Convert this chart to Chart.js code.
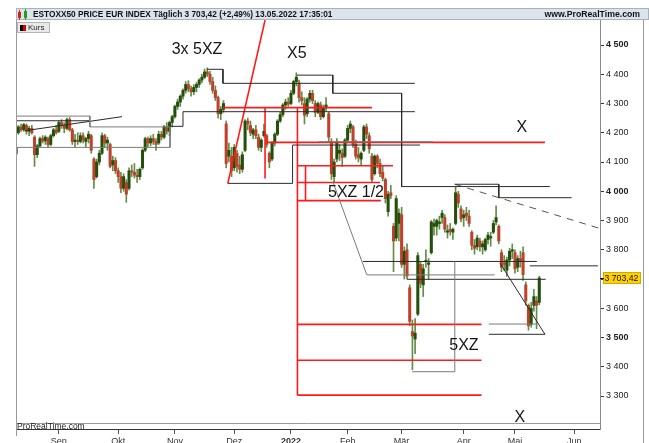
<!DOCTYPE html>
<html>
<head>
<meta charset="utf-8">
<script src="https://cdn.jsdelivr.net/npm/chart.js@4.4.1/dist/chart.umd.min.js"></script>
<style>
  html, body { margin: 0; padding: 0; background: #fff; }
  #wrap { width: 649px; height: 443px; }
</style>
</head>
<body>
<div id="wrap"><canvas id="chart" width="649" height="443"></canvas></div>
<script>
// month ticks (trading-day index) and their labels
const monthTicks = [15, 37, 58, 80, 101, 122, 142, 165, 184, 206];
const monthLabels = ['Sep', 'Okt', 'Nov', 'Dez', '2022', 'Feb', 'Mär', 'Apr', 'Mai', 'Jun'];
const priceTicks = [3300, 3400, 3500, 3600, 3700, 3800, 3900, 4000, 4100, 4200, 4300, 4400, 4500];

// daily candles, 11.08.2021 .. 13.05.2022
const opens = [
  4200,4220,4210,4225,4205,4215,4185,4125,4155,4180,4172,4180,4160,4190,4210,
  4205,4235,4225,4215,4245,4210,4170,4175,4170,4190,4170,4180,4190,4110,4050,4100,4130,4190,4165,4160,4090,4105,
  4070,4050,4010,4030,4010,4070,4065,4055,4050,4080,4140,4180,4165,4180,4170,4165,4195,4185,4220,4205,4235,
  4255,4290,4305,4325,4345,4365,4350,4340,4355,4365,4380,4390,4408,4400,4375,4345,4320,4265,4280,4230,4120,4120,
  4080,4130,4090,4075,4140,4240,4225,4195,4210,4185,4150,4190,4190,4130,4110,4165,4195,4240,4262,4295,4305,
  4300,4335,4375,4370,4320,4300,4265,4315,4335,4300,4270,4295,4255,4285,4265,4170,4050,4110,4130,4130,4120,
  4175,4215,4220,4160,4125,4110,4140,4220,4190,4120,4060,4120,4095,4065,4040,3930,3995,3880,3840,3890,
  3920,3750,3800,3670,3520,3495,3580,3750,3680,3760,3750,3790,3880,3880,3890,3910,3910,3860,3870,3860,3890,3990,3940,
  3910,3925,3915,3860,3815,3810,3830,3810,3800,3835,3840,3860,3895,3880,3790,3755,3730,3765,3795,
  3790,3740,3770,3790,3680,3610,3545,3610,3625,3620
];
const highs = [
  4225,4230,4232,4230,4222,4225,4190,4160,4185,4190,4190,4185,4195,4215,4225,
  4240,4245,4235,4250,4252,4215,4195,4200,4200,4200,4185,4205,4195,4115,4110,4140,4200,4195,4185,4165,4120,4115,
  4080,4065,4060,4040,4080,4090,4095,4075,4080,4145,4185,4185,4190,4195,4180,4205,4205,4225,4235,4240,4260,
  4295,4315,4330,4350,4375,4378,4360,4365,4372,4385,4400,4418,4422,4410,4390,4360,4325,4290,4310,4240,4165,4150,
  4160,4140,4120,4135,4245,4250,4240,4215,4225,4195,4180,4230,4195,4135,4170,4200,4245,4270,4300,4315,4320,
  4345,4380,4405,4380,4340,4320,4320,4345,4345,4310,4305,4305,4295,4320,4270,4180,4110,4180,4160,4145,4180,
  4225,4240,4225,4175,4150,4135,4225,4230,4200,4130,4125,4125,4110,4085,4045,4000,4020,3890,3985,3940,
  3945,3810,3820,3680,3560,3565,3790,3760,3750,3800,3770,3900,3905,3905,3915,3935,3920,3885,3890,3875,4015,4000,3950,
  3935,3945,3935,3865,3835,3850,3840,3830,3840,3860,3860,3900,3950,3885,3800,3780,3775,3805,3820,
  3800,3780,3795,3810,3690,3615,3620,3665,3640,3710
];
const lows = [
  4195,4205,4205,4195,4190,4195,4085,4115,4150,4165,4160,4150,4155,4185,4195,
  4200,4215,4200,4210,4205,4160,4150,4160,4165,4165,4150,4165,4130,4010,4045,4090,4125,4150,4140,4080,4070,4060,
  4030,3995,4000,3962,4005,4050,4045,4030,4040,4075,4135,4150,4155,4160,4140,4160,4175,4180,4195,4190,4220,
  4250,4280,4290,4315,4335,4340,4325,4330,4340,4355,4370,4385,4392,4365,4335,4310,4250,4245,4270,4080,4100,4050,
  4070,4065,4060,4065,4135,4210,4190,4180,4180,4140,4135,4185,4150,4080,4105,4155,4190,4235,4255,4280,4290,
  4295,4330,4360,4305,4295,4230,4255,4305,4300,4255,4265,4245,4250,4275,4170,4040,4030,4100,4105,4085,4115,
  4165,4200,4150,4110,4100,4090,4135,4180,4130,4030,4055,4080,4050,4035,3960,3915,3975,3725,3830,3830,
  3740,3700,3700,3540,3390,3445,3575,3670,3640,3740,3700,3785,3850,3850,3870,3890,3860,3840,3850,3835,3885,3945,3895,
  3880,3900,3880,3800,3785,3800,3795,3785,3795,3820,3812,3855,3885,3820,3725,3730,3710,3745,3770,
  3720,3725,3740,3695,3610,3525,3535,3590,3530,3612
];
const closes = [
  4220,4210,4228,4205,4215,4200,4125,4155,4180,4172,4185,4160,4190,4210,4200,
  4235,4225,4215,4245,4210,4170,4175,4170,4190,4175,4180,4195,4140,4040,4100,4130,4190,4165,4175,4085,4105,4070,
  4050,4010,4050,3990,4070,4065,4055,4050,4075,4140,4180,4165,4180,4170,4160,4195,4185,4220,4205,4235,4255,
  4290,4305,4325,4345,4365,4350,4340,4355,4365,4380,4390,4408,4400,4375,4345,4320,4265,4280,4300,4095,4140,4070,
  4150,4085,4075,4125,4240,4230,4200,4210,4190,4150,4175,4205,4160,4100,4165,4195,4240,4262,4295,4305,4298,
  4335,4375,4390,4320,4310,4260,4315,4335,4310,4270,4300,4255,4285,4295,4185,4060,4100,4170,4140,4115,4175,
  4215,4230,4160,4120,4115,4130,4220,4195,4145,4040,4120,4095,4060,4045,3975,3990,3985,3830,3975,3925,
  3750,3795,3710,3555,3505,3515,3780,3685,3735,3760,3755,3895,3890,3900,3895,3925,3870,3865,3862,3870,3995,3960,3905,
  3920,3915,3890,3815,3805,3840,3810,3820,3835,3850,3845,3890,3910,3830,3740,3750,3765,3795,3800,
  3735,3770,3760,3715,3625,3540,3600,3640,3610,3703.42
];
const lastPrice = 3703.42;

// hand-drawn lines on the chart, as [trading-day index, price]
const blackLines = [
  [[-0.5, 4241], [26.5, 4241]],
  [[2.5, 4207], [38.4, 4255]],
  [[56.2, 4222], [61, 4222], [61, 4272], [146.9, 4272]],
  [[69.9, 4417], [75.8, 4417], [75.8, 4369], [146.9, 4369]],
  [[103.2, 4397], [116.5, 4397], [116.5, 4335], [142, 4335], [142, 4016], [196.9, 4016]],
  [[77.6, 4027], [101.6, 4027], [101.6, 4158], [148.8, 4158]],
  [[127.7, 3760], [192.1, 3760]],
  [[144, 3699], [195.4, 3699]],
  [[189.5, 3745], [214.7, 3745]],
  [[161.7, 4024], [178, 4024], [178, 3978], [205, 3978]],
  [[178.4, 3755], [195.1, 3511], [174.3, 3511]]
];
const grayLines = [
  [[-0.5, 4257], [26.5, 4257], [26.5, 4220], [56.2, 4220], [56.2, 4150], [-0.4, 4150], [-0.4, 4127]],
  [[111.3, 4169], [153.6, 4169]],
  [[116.5, 4033], [129.1, 3714], [176.5, 3714]],
  [[145.9, 3383], [161.7, 3383], [161.7, 3760]],
  [[174.3, 3546], [192.1, 3546]]
];
const redLines = [
  [[77.6, 4027], [91.4, 4585]],
  [[75.8, 4286], [131, 4286]],
  [[91.4, 4286], [91.4, 4044]],
  [[92, 4167], [195.1, 4167]],
  [[103.4, 4286], [103.4, 3303]],
  [[103.4, 3545], [171.6, 3545]],
  [[103.4, 3422], [171.6, 3422]],
  [[103.4, 3303], [171.6, 3303]],
  [[103.4, 4087], [138.8, 4087]],
  [[103.4, 4030], [134, 4030]],
  [[103.4, 3968], [134.3, 3968]],
  [[106.4, 4087], [106.4, 3968]]
];
const dashedLines = [
  [[161.7, 4024], [215.4, 3873]]
];
const notes = [
  ['3x 5XZ', 66.2, 4483],
  ['X5', 103.2, 4469],
  ['X', 186.5, 4216],
  ['5XZ 1/2', 125.1, 3994],
  ['5XZ', 165.1, 3471],
  ['X', 185.8, 3225]
];

const FONT = '"Liberation Sans", Arial, sans-serif';
const BULL = '#234f0b', BEAR = '#c0412b', WICK = '#628c47';

const days = closes.map((c, i) => i);
const wickData = days.map(i => ({ x: i, y: [lows[i], highs[i]] }));
const bodyData = days.map(i => ({ x: i, y: [opens[i], closes[i]] }));
const bodyColors = days.map(i => closes[i] >= opens[i] ? BULL : BEAR);

function lineSet(points, color, width, dash) {
  return {
    type: 'line',
    data: points.map(p => ({ x: p[0], y: p[1] })),
    borderColor: color,
    borderWidth: width,
    borderDash: dash || [],
    pointRadius: 0,
    fill: false,
    tension: 0,
    order: 0
  };
}

const datasets = [
  { type: 'bar', data: wickData, backgroundColor: WICK, barThickness: 1, grouped: false, order: 3 },
  { type: 'bar', data: bodyData, backgroundColor: bodyColors, barThickness: 2.4, minBarLength: 1, grouped: false, order: 2 }
];
grayLines.forEach(l => datasets.push(lineSet(l, '#7a7a7a', 1)));
blackLines.forEach(l => datasets.push(lineSet(l, '#2a2a2a', 1)));
redLines.forEach(l => datasets.push(lineSet(l, '#ff1a1a', 1.6)));
dashedLines.forEach(l => datasets.push(lineSet(l, '#555', 1, [7, 6])));

function fmt(v) {
  return String(v).replace(/(\d)(\d{3})$/, '$1 $2');
}

const decor = {
  id: 'decor',
  beforeDraw(chart) {
    const c = chart.ctx;
    c.save();
    c.fillStyle = '#fff';
    c.fillRect(0, 0, chart.width, chart.height);
    c.restore();
  },
  afterDraw(chart) {
    const c = chart.ctx, xs = chart.scales.x, ys = chart.scales.y, a = chart.chartArea;
    c.save();

    // frame
    c.strokeStyle = '#9a9a9a';
    c.lineWidth = 1;
    c.beginPath();
    c.moveTo(16.5, 20); c.lineTo(16.5, 436);
    c.moveTo(17, 423.5); c.lineTo(a.right, 423.5);
    c.moveTo(643.5, 8); c.lineTo(643.5, 443);
    c.stroke();

    // header bar
    c.fillStyle = '#dde3ea';
    c.fillRect(16, 8, 633, 12);
    c.strokeStyle = '#a9b2bc';
    c.strokeRect(16.5, 8.5, 632, 11);
    c.fillStyle = '#d02020'; c.fillRect(18, 12, 3, 6);
    c.fillRect(19, 10, 1, 10);
    c.fillStyle = '#20a020'; c.fillRect(24, 11, 3, 7);
    c.fillRect(25, 9, 1, 11);
    c.fillStyle = '#111';
    c.font = 'bold 8.3px ' + FONT;
    c.textBaseline = 'middle';
    c.textAlign = 'left';
    c.fillText('ESTOXX50 PRICE EUR INDEX Täglich 3 703,42 (+2,49%) 13.05.2022 17:35:01', 33, 14.5);
    c.font = 'bold 8.7px ' + FONT;
    c.textAlign = 'right';
    c.fillText('www.ProRealTime.com', 640, 14.5);

    // legend box
    c.fillStyle = '#e9e9e9';
    c.fillRect(17, 22, 33, 11);
    c.strokeStyle = '#b5b5b5';
    c.strokeRect(17.5, 22.5, 32, 10);
    c.fillStyle = '#000'; c.fillRect(20, 25, 3, 6);
    c.fillStyle = '#e00000'; c.fillRect(23, 25, 3, 6);
    c.fillStyle = '#222';
    c.font = '8px ' + FONT;
    c.textAlign = 'left';
    c.fillText('Kurs', 28, 28);

    // notes written on the chart
    c.fillStyle = '#161616';
    c.font = '16px ' + FONT;
    c.textAlign = 'center';
    c.textBaseline = 'middle';
    notes.forEach(n => c.fillText(n[0], xs.getPixelForValue(n[1]), ys.getPixelForValue(n[2])));

    // last price tag
    const py = Math.round(ys.getPixelForValue(lastPrice));
    c.fillStyle = '#ffd000';
    c.fillRect(603, py - 6, 38, 12);
    c.strokeStyle = '#d0a800';
    c.strokeRect(603.5, py - 5.5, 37, 11);
    c.fillStyle = '#111';
    c.fillRect(600, py, 4, 1);
    c.font = '8.7px ' + FONT;
    c.textAlign = 'left';
    c.fillText('3 703,42', 604.5, py + 0.5);

    // bottom caption
    c.fillStyle = '#222';
    c.font = '8.5px ' + FONT;
    c.textBaseline = 'alphabetic';
    c.fillText('ProRealTime.com', 17, 429);
    c.restore();
  }
};

new Chart(document.getElementById('chart'), {
  type: 'bar',
  data: { datasets: datasets },
  options: {
    responsive: false,
    devicePixelRatio: 1,
    animation: false,
    events: [],
    layout: { padding: { left: 17, top: 20, right: 0, bottom: 0 } },
    plugins: { legend: { display: false }, tooltip: { enabled: false } },
    scales: {
      x: {
        type: 'linear',
        min: -0.5,
        max: 215.5,
        offset: false,
        bounds: 'data',
        afterBuildTicks: s => { s.ticks = monthTicks.map(v => ({ value: v })); },
        afterFit: s => { s.height = 14; },
        grid: { drawOnChartArea: false, offset: false, tickLength: 5, color: '#555' },
        border: { display: true, color: '#333' },
        ticks: {
          autoSkip: false,
          maxRotation: 0,
          padding: 2,
          color: '#333',
          font: ctx => ({ family: FONT, size: 9, weight: ctx.tick && ctx.tick.value === 101 ? 'bold' : 'normal' }),
          callback: (v, i) => monthLabels[i]
        }
      },
      y: {
        type: 'linear',
        position: 'right',
        min: 3187.2,
        max: 4585.5,
        bounds: 'data',
        afterBuildTicks: s => { s.ticks = priceTicks.map(v => ({ value: v })); },
        afterFit: s => { s.width = 49; },
        grid: { drawOnChartArea: false, tickLength: 4, color: '#333' },
        border: { display: true, color: '#8a8a8a' },
        ticks: {
          padding: 2,
          color: '#222',
          font: ctx => ({ family: FONT, size: 9, weight: ctx.tick && ctx.tick.value % 500 === 0 ? 'bold' : 'normal' }),
          callback: v => fmt(v)
        }
      }
    }
  },
  plugins: [decor]
});
</script>
</body>
</html>
